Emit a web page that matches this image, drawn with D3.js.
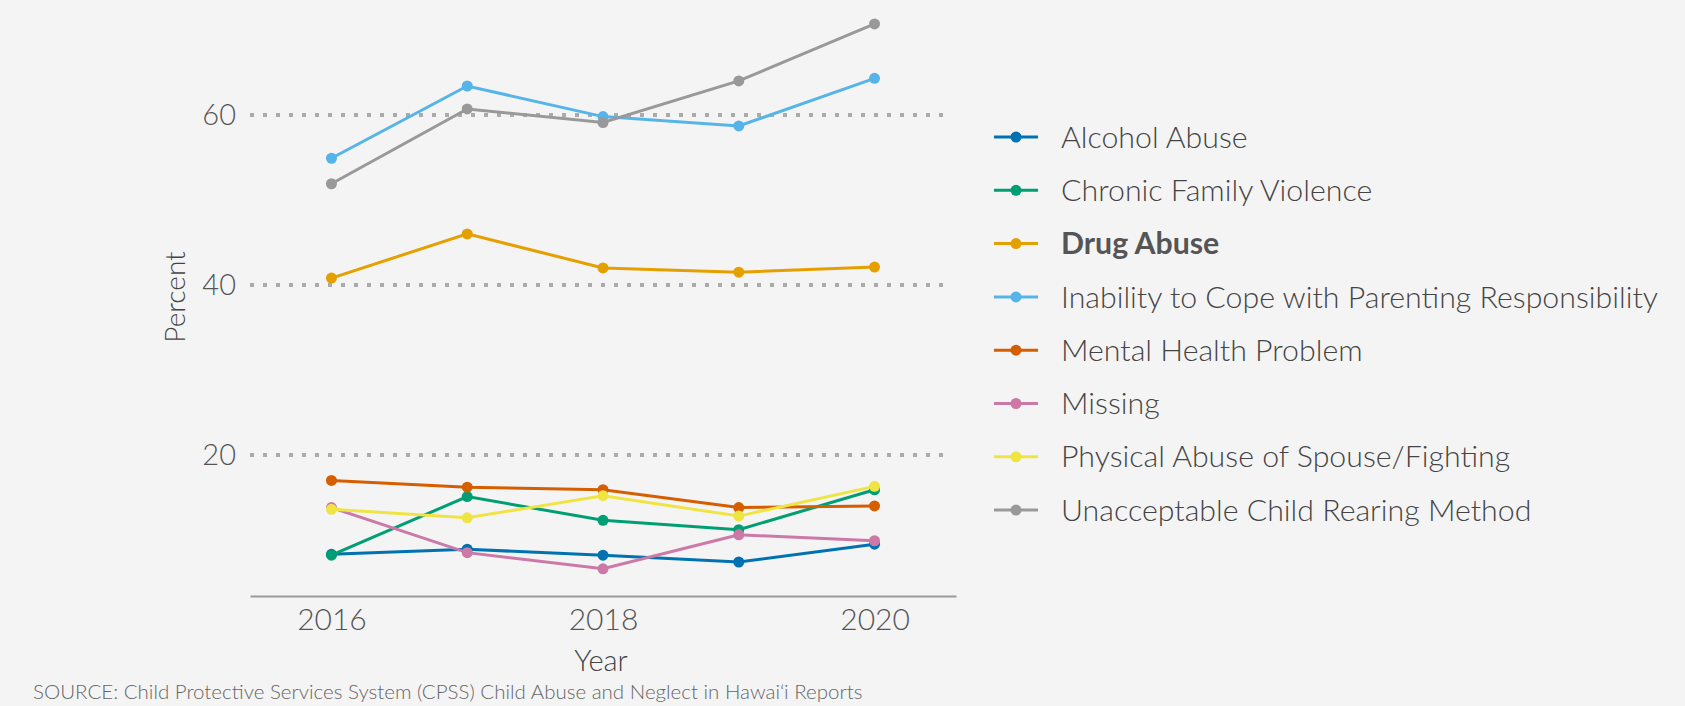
<!DOCTYPE html>
<html>
<head>
<meta charset="utf-8">
<script src="https://cdn.jsdelivr.net/npm/d3@7"></script>
<style>
    html, body { margin: 0; padding: 0; background: #f4f4f4; }
    .plot text { font-family: Lato, "Open Sans", sans-serif; font-weight: 300; }
</style>
</head>
<body>
<div class="plot"></div>
<script>
// Data
const years = [2016, 2017, 2018, 2019, 2020];
const seriesNames = ["Alcohol Abuse", "Chronic Family Violence", "Drug Abuse",
    "Inability to Cope with Parenting Responsibility", "Mental Health Problem",
    "Missing", "Physical Abuse of Spouse/Fighting", "Unacceptable Child Rearing Method"];
const alcohol = [8.3, 8.9, 8.2, 7.4, 9.5];
const chronic = [8.2, 15.1, 12.3, 11.2, 15.9];
const drug = [40.8, 46.0, 42.0, 41.5, 42.1];
const inability = [54.9, 63.4, 59.8, 58.7, 64.3];
const mental = [17.0, 16.2, 15.9, 13.8, 14.0];
const missing = [13.8, 8.5, 6.6, 10.6, 9.9];
const physical = [13.6, 12.6, 15.2, 12.8, 16.3];
const unacceptable = [51.9, 60.7, 59.1, 64.0, 70.7];
const yTicks = [20, 40, 60];
const xTicks = [2016, 2018, 2020];

const colors = ["#0072B2", "#009E73", "#E69F00", "#56B4E9", "#D55E00", "#CC79A7", "#F0E442", "#999999"];
const allValues = [alcohol, chronic, drug, inability, mental, missing, physical, unacceptable];

const W = 1685, H = 706;
const svg = d3.select(".plot")
    .append("svg")
        .attr("width", W)
        .attr("height", H);

svg.append("rect").attr("width", W).attr("height", H).attr("fill", "#f4f4f4");

// scales
const x = d3.scaleLinear().domain([2015.4, 2020.6]).range([250, 956]);
const y = d3.scaleLinear().domain([3.4, 73]).range([596, 4.4]);

// Dotted gridlines
svg.append("g")
    .selectAll("line")
    .data(yTicks)
    .enter()
    .append("line")
        .attr("x1", 250)
        .attr("x2", 948)
        .attr("y1", d => y(d))
        .attr("y2", d => y(d))
        .attr("stroke", "#ababab")
        .attr("stroke-width", 4)
        .attr("stroke-dasharray", "4,9");

// y axis labels (no axis line)
const yAxis = svg.append("g")
    .attr("transform", "translate(250,0)")
    .call(d3.axisLeft(y).tickValues(yTicks).tickSize(0).tickPadding(14));
yAxis.select(".domain").remove();
yAxis.selectAll("text")
    .style("font-size", "29px")
    .attr("fill", "#555");

// x axis
const xAxis = svg.append("g")
    .attr("transform", "translate(0,596)")
    .call(d3.axisBottom(x).tickValues(xTicks).tickFormat(d3.format("d")).tickSize(0).tickPadding(13));
xAxis.select(".domain").attr("stroke", "#9a9a9a").attr("stroke-width", 2);
xAxis.selectAll("text")
    .style("font-size", "30px")
    .attr("fill", "#555");

// Axis titles
svg.append("text")
    .attr("x", 601)
    .attr("y", 671)
    .attr("text-anchor", "middle")
    .style("font-size", "29px")
    .attr("fill", "#444")
    .text("Year");

svg.append("text")
    .attr("transform", "translate(185,297) rotate(-90)")
    .attr("text-anchor", "middle")
    .style("font-size", "28px")
    .attr("fill", "#444")
    .text("Percent");

// Lines and points
const line = d3.line()
    .x((d, i) => x(years[i]))
    .y(d => y(d));

allValues.forEach(function(vals, k) {
    const g = svg.append("g");
    g.append("path")
        .datum(vals)
        .attr("d", line)
        .attr("fill", "none")
        .attr("stroke", colors[k])
        .attr("stroke-width", 3);
    g.selectAll("circle")
        .data(vals)
        .enter()
        .append("circle")
            .attr("cx", (d, i) => x(years[i]))
            .attr("cy", d => y(d))
            .attr("r", 5.5)
            .attr("fill", colors[k]);
});

// Legend
const legend = svg.append("g").attr("transform", "translate(994,137)");
const rows = legend.selectAll("g")
    .data(seriesNames)
    .enter()
    .append("g")
        .attr("transform", (d, i) => "translate(0," + (i * 53.3) + ")");
rows.append("line")
    .attr("x1", 0).attr("x2", 44)
    .attr("stroke", (d, i) => colors[i])
    .attr("stroke-width", 3);
rows.append("circle")
    .attr("cx", 22)
    .attr("r", 5.5)
    .attr("fill", (d, i) => colors[i]);
rows.append("text")
    .attr("x", 67)
    .attr("dy", "0.35em")
    .style("font-size", "30.3px")
    .style("font-weight", d => d === "Drug Abuse" ? 700 : 300)
    .attr("fill", (d) => d === "Drug Abuse" ? "#555" : "#444")
    .text(d => d);

// Source note
svg.append("text")
    .attr("x", 33)
    .attr("y", 699)
    .style("font-size", "20.5px")
    .attr("fill", "#666")
    .text("SOURCE: Child Protective Services System (CPSS) Child Abuse and Neglect in Hawai\u02bbi Reports");
</script>
</body>
</html>
